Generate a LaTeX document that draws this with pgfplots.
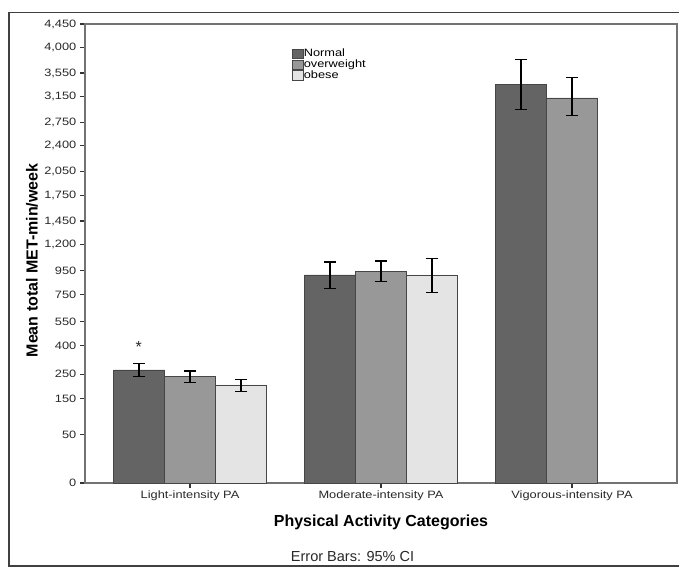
\documentclass[border=0pt]{standalone}
\usepackage{pgfplots}
\pgfplotsset{compat=1.18}
\usepackage{fontspec}
\setmainfont{Liberation Sans}
\newfontfamily\widefont[FakeStretch=1.2]{Liberation Sans}
\definecolor{cnormal}{RGB}{100,100,100}
\definecolor{cover}{RGB}{152,152,152}
\definecolor{cobese}{RGB}{228,228,228}
\definecolor{cedge}{RGB}{70,70,70}
\definecolor{ctext}{RGB}{40,40,40}

\begin{document}
\begin{tikzpicture}
\useasboundingbox (0,0) rectangle (509.25pt,428.25pt);
\draw[color=black!75, line width=0.8pt] (509.25pt,418.725pt) -- (6.75pt,418.725pt) -- (6.75pt,3.75pt) -- (509.25pt,3.75pt);
\begin{axis}[
  at={(63.75pt,66pt)}, anchor=south west,
  scale only axis,
  width=444pt, height=344.25pt,
  xmin=-0.55, xmax=2.55,
  ymin=0, ymax=4450,
  y coord trafo/.code={\pgfmathparse{sqrt(#1)}},
  y coord inv trafo/.code={\pgfmathparse{(#1)^2}},
  ybar=0pt, bar width=38.25pt,
  xtick={0,1,2},
  xticklabels={Light-intensity PA,Moderate-intensity PA,Vigorous-intensity PA},
  ytick={0,50,150,250,400,550,750,950,1200,1450,1750,2050,2400,2750,3150,3550,4000,4450},
  yticklabels={0,50,150,250,400,550,750,950,{1,200},{1,450},{1,750},{2,050},{2,400},{2,750},{3,150},{3,550},{4,000},{4,450}},
  tick pos=left,
  tick align=outside,
  major tick length=3.5pt,
  xtick style={draw=black!80, line width=0.8pt},
  ytick style={draw=black!80, line width=0.8pt},
  axis line style={draw=black!55, line width=1pt},
  tick label style={font=\widefont\fontsize{8}{9.5}\selectfont, text=ctext},
  yticklabel style={xshift=0.5pt},
  xticklabel style={yshift=1pt},
  ylabel={Mean total MET-min/week},
  ylabel style={font=\bfseries\fontsize{12}{14}\selectfont, at={(axis description cs:-0.0895,0.485)}, anchor=center, rotate=0},
  xlabel={Physical Activity Categories},
  xlabel style={font=\bfseries\fontsize{12}{14}\selectfont, at={(axis description cs:0.5,-0.085)}, anchor=center},
  legend style={at={(axis description cs:0.35,0.948)}, anchor=north west, draw=none, fill=none,
    font=\widefont\fontsize{8}{9}\selectfont, row sep=-0.4pt, inner sep=0pt,
    nodes={inner sep=0.6pt, anchor=west}},
  legend cell align=left,
  legend image code/.code={\draw[#1, draw=cedge, line width=0.3pt] (0pt,-3.6pt) rectangle (7.6pt,3.6pt);},
  clip=false,
]
\addplot[fill=cnormal, draw=cedge, line width=0.4pt] coordinates {(0,270) (1,914) (2,3360)};
\addplot[fill=cover, draw=cedge, line width=0.4pt] coordinates {(0,241) (1,945) (2,3134)};
\addplot[fill=cobese, draw=cedge, line width=0.4pt] coordinates {(0,203) (1,914)};
\legend{Normal,overweight,obese}
% 95% CI error bars (low, high), bars at category -0.267, 0, +0.267
\addplot[sharp plot, forget plot, black, line width=0.9pt, mark=-, mark size=4.6pt, mark options={solid, line width=0.9pt}] coordinates {(-0.267,240) (-0.267,301)};
\addplot[sharp plot, forget plot, black, line width=0.9pt, mark=-, mark size=4.6pt, mark options={solid, line width=0.9pt}] coordinates {(0,215) (0,265)};
\addplot[sharp plot, forget plot, black, line width=0.9pt, mark=-, mark size=4.6pt, mark options={solid, line width=0.9pt}] coordinates {(0.267,178) (0.267,225)};
\addplot[sharp plot, forget plot, black, line width=0.9pt, mark=-, mark size=4.6pt, mark options={solid, line width=0.9pt}] coordinates {(0.733,799) (0.733,1031)};
\addplot[sharp plot, forget plot, black, line width=0.9pt, mark=-, mark size=4.6pt, mark options={solid, line width=0.9pt}] coordinates {(1,859) (1,1040)};
\addplot[sharp plot, forget plot, black, line width=0.9pt, mark=-, mark size=4.6pt, mark options={solid, line width=0.9pt}] coordinates {(1.267,768) (1.267,1065)};
\addplot[sharp plot, forget plot, black, line width=0.9pt, mark=-, mark size=4.6pt, mark options={solid, line width=0.9pt}] coordinates {(1.733,2946) (1.733,3792)};
\addplot[sharp plot, forget plot, black, line width=0.9pt, mark=-, mark size=4.6pt, mark options={solid, line width=0.9pt}] coordinates {(2,2847) (2,3469)};
\node[font=\fontsize{12}{12}\selectfont, text=ctext] at (axis cs:-0.268,392) {*};
\end{axis}
\node[font=\fontsize{10.9}{12}\selectfont, text=ctext] at (264.4pt,11pt) {Error Bars: 95\% CI};
\end{tikzpicture}
\end{document}
